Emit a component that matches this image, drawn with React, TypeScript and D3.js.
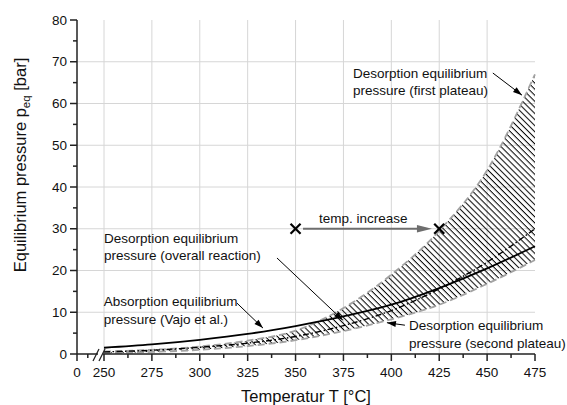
import React from "react";
import * as d3 from "d3";

// ---- data ----
const temps = [250, 275, 300, 325, 350, 375, 400, 425, 450, 475];
const absorptionVajo = [1.5, 2.3, 3.4, 4.8, 6.7, 9.0, 11.8, 15.8, 20.5, 25.8];
const overallReaction = [0.5, 0.9, 1.6, 2.6, 4.2, 6.8, 10.4, 15.6, 22.0, 30.0];
const firstPlateau = [0.6, 1.0, 1.8, 3.2, 5.6, 11.0, 19.0, 29.5, 44.0, 67.0];
const secondPlateau = [0.2, 0.5, 1.0, 1.9, 3.3, 5.5, 8.3, 11.8, 16.8, 22.5];

const xTickValues = [0, 250, 275, 300, 325, 350, 375, 400, 425, 450, 475];
const xMinorValues = [100, 262.5, 287.5, 312.5, 337.5, 362.5, 387.5, 412.5, 437.5, 462.5];
const xGridValues = [250, 275, 300, 325, 350, 375, 400, 425, 450];
const yTickValues = [0, 10, 20, 30, 40, 50, 60, 70, 80];
const yMinorValues = [5, 15, 25, 35, 45, 55, 65, 75];
const yGridValues = [10, 20, 30, 40, 50, 60, 70];

const markerT = [350, 425];
const markerP = [30, 30];

const FONT = "'Liberation Sans', Arial, Helvetica, sans-serif";

type Pt = [number, number];

function headPoints(a: Pt, b: Pt, len: number, half: number): string {
  const dx = b[0] - a[0];
  const dy = b[1] - a[1];
  const d = Math.hypot(dx, dy) || 1;
  const ux = dx / d, uy = dy / d;
  const bx = b[0] - ux * len, by = b[1] - uy * len;
  return `${b[0]},${b[1]} ${bx - uy * half},${by + ux * half} ${bx + uy * half},${by - ux * half}`;
}

export default function App() {
  const W = 567, H = 405;
  const x = d3.scaleLinear().domain([0, 250, 475]).range([77, 104, 535]);
  const y = d3.scaleLinear().domain([0, 80]).range([354, 20]);

  const rows = temps.map((t, i) => ({
    t,
    abs: absorptionVajo[i],
    ov: overallReaction[i],
    p1: firstPlateau[i],
    p2: secondPlateau[i],
  }));
  type Row = typeof rows[number];

  const curve = d3.curveMonotoneX;
  const line = (key: keyof Row) =>
    d3.line<Row>().x((d) => x(d.t)).y((d) => y(d[key] as number)).curve(curve)(rows) || "";
  const area =
    d3.area<Row>().x((d) => x(d.t)).y0((d) => y(d.p2)).y1((d) => y(d.p1)).curve(curve)(rows) || "";

  const P = (t: number, p: number): Pt => [x(t), y(p)];

  // annotation anchors in data space
  const notes = [
    { at: P(380, 66.1), lines: ["Desorption equilibrium", "pressure (first plateau)"], from: P(453, 67.3), to: P(468.2, 62.0) },
    { at: P(249.5, 26.7), lines: ["Desorption equilibrium", "pressure (overall reaction)"], from: P(340.3, 23.0), to: P(374.7, 8.1) },
    { at: P(248.4, 11.4), lines: ["Absorption equilibrium", "pressure (Vajo et al.)"], from: P(319.4, 12.2), to: P(333.0, 6.2) },
    { at: P(409.2, 5.7), lines: ["Desorption equilibrium", "pressure (second plateau)"], from: P(407.1, 6.9), to: P(397.7, 7.5) },
  ];

  const tempFrom = P(353.9, 30);
  const tempTo = P(421.2, 30);
  const tempText = P(385.4, 31.4);

  const axisColor = "#222";
  const x0 = x(0), xEnd = x(475), yBase = y(0), yTop = y(80);
  const brk1 = x(250) - 8, brk2 = x(250) - 2;

  return (
    <svg width={W} height={H} style={{ position: "absolute", left: 0, top: 0, background: "#fff" }} fontFamily={FONT}>
      <defs>
        <pattern id="hatch" patternUnits="userSpaceOnUse" width={4.3} height={10} patternTransform="rotate(-45)">
          <line x1={1.2} y1={-1} x2={1.2} y2={11} stroke="#000" strokeWidth={1} />
        </pattern>
      </defs>
      <rect x={0} y={0} width={W} height={H} fill="#fff" />

      {/* grid */}
      {xGridValues.map((v) => (
        <line key={"gx" + v} x1={x(v)} x2={x(v)} y1={yTop} y2={yBase} stroke="#d6d6d6" strokeWidth={1} />
      ))}
      {yGridValues.map((v) => (
        <line key={"gy" + v} x1={x0} x2={xEnd} y1={y(v)} y2={y(v)} stroke="#d6d6d6" strokeWidth={1} />
      ))}

      {/* hatched range between plateaus */}
      <path d={area} fill="url(#hatch)" stroke="none" />
      <path d={line("p1")} fill="none" stroke="#a3a3a3" strokeWidth={1.8} strokeDasharray="7 4" />
      <path d={line("p2")} fill="none" stroke="#a3a3a3" strokeWidth={1.8} strokeDasharray="7 4" />
      <path d={line("ov")} fill="none" stroke="#000" strokeWidth={1.4} strokeDasharray="6 2.5 1.5 2.5" />
      <path d={line("abs")} fill="none" stroke="#000" strokeWidth={1.8} />

      {/* temp increase arrow */}
      <line x1={tempFrom[0]} y1={tempFrom[1]} x2={tempTo[0] - 10} y2={tempTo[1]} stroke="#6e6e6e" strokeWidth={2} />
      <polygon points={headPoints(tempFrom, tempTo, 15, 3.8)} fill="#6e6e6e" />
      <text x={tempText[0]} y={tempText[1]} fontSize={13.5} textAnchor="middle" fill="#111">temp. increase</text>

      {/* X markers */}
      {markerT.map((t, i) => {
        const [cx, cy] = P(t, markerP[i]);
        const s = 5;
        return (
          <g key={"m" + i} stroke="#000" strokeWidth={2.2}>
            <line x1={cx - s} y1={cy - s} x2={cx + s} y2={cy + s} />
            <line x1={cx - s} y1={cy + s} x2={cx + s} y2={cy - s} />
          </g>
        );
      })}

      {/* annotations */}
      {notes.map((n, i) => (
        <g key={"n" + i}>
          {n.lines.map((l, j) => (
            <text key={j} x={n.at[0]} y={n.at[1] + j * 17.4} fontSize={13.5} fill="#111">{l}</text>
          ))}
          <line x1={n.from[0]} y1={n.from[1]} x2={n.to[0]} y2={n.to[1]} stroke="#000" strokeWidth={1} />
          <polygon points={headPoints(n.from, n.to, 9, 3)} fill="#000" />
        </g>
      ))}

      {/* y axis */}
      <line x1={x0} x2={x0} y1={yTop} y2={yBase} stroke={axisColor} strokeWidth={1.5} />
      {yTickValues.map((v) => (
        <g key={"yt" + v}>
          <line x1={x0 - 7} x2={x0} y1={y(v)} y2={y(v)} stroke={axisColor} strokeWidth={1.5} />
          <text x={x0 - 10} y={y(v)} dy="0.35em" fontSize={13.5} textAnchor="end" fill="#111">{v}</text>
        </g>
      ))}
      {yMinorValues.map((v) => (
        <line key={"ym" + v} x1={x0 - 4} x2={x0} y1={y(v)} y2={y(v)} stroke={axisColor} strokeWidth={1.5} />
      ))}

      {/* x axis with break */}
      <line x1={x0} x2={brk1 + 2} y1={yBase} y2={yBase} stroke={axisColor} strokeWidth={1.5} />
      <line x1={brk2 + 1} x2={xEnd} y1={yBase} y2={yBase} stroke={axisColor} strokeWidth={1.5} />
      <line x1={brk1 - 3} y1={yBase + 7} x2={brk1 + 3} y2={yBase - 5} stroke={axisColor} strokeWidth={1.3} />
      <line x1={brk2 - 3} y1={yBase + 7} x2={brk2 + 3} y2={yBase - 5} stroke={axisColor} strokeWidth={1.3} />
      {xTickValues.map((v) => (
        <g key={"xt" + v}>
          <line x1={x(v)} x2={x(v)} y1={yBase} y2={yBase + 7} stroke={axisColor} strokeWidth={1.5} />
          <text x={x(v)} y={yBase + 23} fontSize={13.5} textAnchor="middle" fill="#111">{v}</text>
        </g>
      ))}
      {xMinorValues.map((v) => (
        <line key={"xm" + v} x1={x(v)} x2={x(v)} y1={yBase} y2={yBase + 4} stroke={axisColor} strokeWidth={1.5} />
      ))}

      {/* axis titles */}
      <text x={306} y={402} fontSize={16.5} textAnchor="middle" fill="#111">Temperatur T [°C]</text>
      <text transform="translate(26,165) rotate(-90)" fontSize={16.5} textAnchor="middle" fill="#111">
        Equilibrium pressure p<tspan fontSize={11.5} dy={4}>eq</tspan><tspan dy={-4}> [bar]</tspan>
      </text>
    </svg>
  );
}
